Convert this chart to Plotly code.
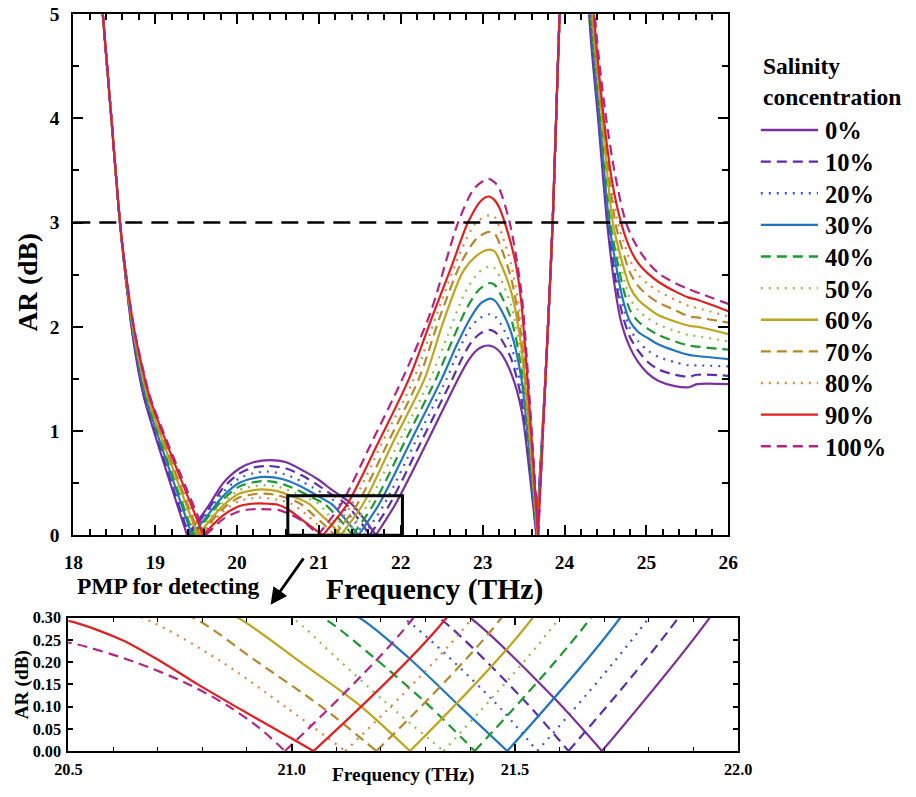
import plotly.graph_objects as go

# ---- AR spectra (dB) versus frequency (THz) for each salinity level ----
freq_00 = [18.36, 18.465, 18.57, 18.635, 18.71, 18.79, 18.87, 19.39,
           19.65, 19.83, 20.03, 20.2, 20.40, 20.6, 20.83, 21.0, 21.15, 21.28, 21.40, 21.59, 21.695,
           21.936, 22.30, 22.70, 22.82, 22.92, 23.0, 23.08, 23.15, 23.22, 23.36, 23.48, 23.57, 23.655,
           23.77, 23.855, 23.94, 24.15, 24.30, 24.41, 24.52, 24.62, 24.70, 24.80, 24.90, 25.02, 25.15, 25.35, 25.52, 25.62, 26.0]
ar_00 = [5.0, 4.0, 3.0, 2.5, 2.0, 1.6, 1.3, 0.0,
         0.28, 0.50, 0.64, 0.70, 0.72, 0.70, 0.61, 0.53, 0.44, 0.37, 0.30, 0.117, 0.0,
         0.30, 0.86, 1.5, 1.67, 1.77, 1.81, 1.82, 1.80, 1.75, 1.53, 1.18, 0.62, 0.0,
         1.55, 3.0, 5.0, 9.0, 5.0, 4.0, 3.0, 2.35, 2.02, 1.80, 1.66, 1.55, 1.48, 1.43, 1.42, 1.45, 1.45]

freq_10 = [18.36, 18.465, 18.57, 18.636, 18.713, 18.796, 18.878, 19.41,
           19.65, 19.83, 20.03, 20.2, 20.38, 20.6, 20.80, 20.95, 21.10, 21.22, 21.33, 21.52, 21.62,
           21.866, 22.25, 22.63, 22.75, 22.86, 22.96, 23.08, 23.15, 23.22, 23.35, 23.47, 23.57, 23.658,
           23.77, 23.855, 23.94, 24.15, 24.31, 24.42, 24.53, 24.63, 24.71, 24.80, 24.90, 25.02, 25.15, 25.35, 25.52, 25.62, 26.0]
ar_10 = [5.0, 4.0, 3.0, 2.5, 2.0, 1.6, 1.3, 0.0,
         0.25, 0.454, 0.594, 0.65, 0.665, 0.64, 0.57, 0.50, 0.42, 0.36, 0.30, 0.115, 0.0,
         0.30, 0.90, 1.5, 1.70, 1.85, 1.93, 1.97, 1.95, 1.89, 1.69, 1.32, 0.68, 0.0,
         1.55, 3.0, 5.0, 9.0, 5.0, 4.0, 3.0, 2.42, 2.11, 1.90, 1.77, 1.66, 1.59, 1.54, 1.52, 1.54, 1.53]

freq_20 = [18.36, 18.465, 18.57, 18.637, 18.716, 18.802, 18.886, 19.43,
           19.65, 19.83, 20.03, 20.2, 20.37, 20.58, 20.78, 20.92, 21.05, 21.15, 21.25, 21.45, 21.55,
           21.80, 22.18, 22.56, 22.70, 22.84, 22.96, 23.08, 23.15, 23.22, 23.35, 23.47, 23.57, 23.66,
           23.77, 23.855, 23.94, 24.15, 24.31, 24.42, 24.535, 24.64, 24.72, 24.80, 24.90, 25.02, 25.15, 25.35, 25.52, 25.62, 26.0]
ar_20 = [5.0, 4.0, 3.0, 2.5, 2.0, 1.6, 1.3, 0.0,
         0.23, 0.412, 0.547, 0.595, 0.61, 0.585, 0.52, 0.46, 0.40, 0.35, 0.30, 0.115, 0.0,
         0.30, 0.90, 1.5, 1.76, 1.98, 2.08, 2.12, 2.10, 2.03, 1.81, 1.42, 0.74, 0.0,
         1.55, 3.0, 5.0, 9.0, 5.0, 4.0, 3.0, 2.48, 2.19, 1.98, 1.86, 1.77, 1.71, 1.66, 1.63, 1.63, 1.62]

freq_30 = [18.36, 18.465, 18.57, 18.638, 18.719, 18.808, 18.894, 19.45,
           19.65, 19.83, 20.03, 20.2, 20.35, 20.55, 20.75, 20.88, 21.0, 21.152, 21.262, 21.377, 21.483,
           21.736, 22.12, 22.50, 22.68, 22.84, 22.97, 23.09, 23.15, 23.22, 23.35, 23.47, 23.57, 23.662,
           23.77, 23.855, 23.94, 24.15, 24.32, 24.43, 24.545, 24.65, 24.72, 24.80, 24.90, 25.02, 25.15, 25.35, 25.52, 25.62, 26.0]
ar_30 = [5.0, 4.0, 3.0, 2.5, 2.0, 1.6, 1.3, 0.0,
         0.20, 0.375, 0.503, 0.547, 0.56, 0.54, 0.48, 0.425, 0.37, 0.30, 0.21, 0.10, 0.0,
         0.30, 0.90, 1.5, 1.82, 2.07, 2.22, 2.27, 2.25, 2.17, 1.94, 1.52, 0.80, 0.0,
         1.55, 3.0, 5.0, 9.0, 5.0, 4.0, 3.0, 2.5, 2.24, 2.05, 1.95, 1.89, 1.83, 1.77, 1.73, 1.72, 1.69]

freq_40 = [18.36, 18.465, 18.57, 18.639, 18.722, 18.814, 18.902, 19.47,
           19.65, 19.83, 20.03, 20.2, 20.34, 20.52, 20.72, 20.85, 20.95, 21.07, 21.185, 21.31, 21.41,
           21.67, 22.05, 22.43, 22.63, 22.80, 22.96, 23.09, 23.15, 23.22, 23.35, 23.47, 23.57, 23.665,
           23.77, 23.855, 23.94, 24.15, 24.32, 24.44, 24.56, 24.66, 24.73, 24.80, 24.90, 25.02, 25.15, 25.35, 25.52, 25.62, 26.0]
ar_40 = [5.0, 4.0, 3.0, 2.5, 2.0, 1.6, 1.3, 0.0,
         0.18, 0.344, 0.469, 0.508, 0.52, 0.50, 0.44, 0.39, 0.35, 0.30, 0.21, 0.10, 0.0,
         0.30, 0.90, 1.5, 1.87, 2.17, 2.36, 2.42, 2.40, 2.31, 2.07, 1.62, 0.86, 0.0,
         1.55, 3.0, 5.0, 9.0, 5.0, 4.0, 3.0, 2.57, 2.33, 2.16, 2.05, 1.98, 1.92, 1.86, 1.82, 1.81, 1.78]

freq_50 = [18.36, 18.465, 18.57, 18.64, 18.725, 18.82, 18.91, 19.50,
           19.65, 19.83, 20.03, 20.2, 20.32, 20.5, 20.70, 20.88, 21.0, 21.10, 21.21, 21.34,
           21.60, 21.98, 22.36, 22.58, 22.78, 22.95, 23.09, 23.15, 23.22, 23.35, 23.47, 23.57, 23.667,
           23.77, 23.855, 23.94, 24.15, 24.33, 24.45, 24.575, 24.67, 24.74, 24.80, 24.90, 25.02, 25.15, 25.35, 25.52, 25.62, 26.0]
ar_50 = [5.0, 4.0, 3.0, 2.5, 2.0, 1.6, 1.3, 0.0,
         0.15, 0.314, 0.434, 0.47, 0.48, 0.465, 0.41, 0.35, 0.30, 0.21, 0.11, 0.0,
         0.30, 0.90, 1.5, 1.93, 2.32, 2.52, 2.58, 2.56, 2.46, 2.20, 1.72, 0.93, 0.0,
         1.55, 3.0, 5.0, 9.0, 5.0, 4.0, 3.0, 2.64, 2.42, 2.27, 2.16, 2.08, 2.02, 1.96, 1.92, 1.91, 1.86]

freq_60 = [18.36, 18.465, 18.57, 18.641, 18.728, 18.826, 18.918, 19.52,
           19.65, 19.83, 20.03, 20.2, 20.31, 20.48, 20.65, 20.77, 20.88, 21.02, 21.15, 21.265,
           21.54, 21.91, 22.29, 22.52, 22.76, 22.94, 23.08, 23.15, 23.22, 23.35, 23.47, 23.57, 23.67,
           23.77, 23.855, 23.94, 24.15, 24.34, 24.46, 24.59, 24.68, 24.74, 24.80, 24.90, 25.02, 25.15, 25.35, 25.52, 25.62, 26.0]
ar_60 = [5.0, 4.0, 3.0, 2.5, 2.0, 1.6, 1.3, 0.0,
         0.125, 0.285, 0.40, 0.432, 0.44, 0.425, 0.38, 0.345, 0.30, 0.20, 0.105, 0.0,
         0.30, 0.90, 1.5, 2.05, 2.53, 2.69, 2.74, 2.72, 2.61, 2.33, 1.82, 1.00, 0.0,
         1.55, 3.0, 5.0, 9.0, 5.0, 4.0, 3.0, 2.69, 2.52, 2.38, 2.26, 2.18, 2.11, 2.05, 2.01, 2.00, 1.93]

freq_70 = [18.36, 18.465, 18.57, 18.642, 18.731, 18.832, 18.926, 19.54,
           19.65, 19.83, 20.03, 20.2, 20.29, 20.45, 20.6, 20.78, 20.92, 21.068, 21.19,
           21.47, 21.85, 22.22, 22.48, 22.74, 22.93, 23.08, 23.15, 23.22, 23.35, 23.47, 23.57, 23.672,
           23.77, 23.855, 23.94, 24.15, 24.34, 24.47, 24.62, 24.70, 24.80, 24.90, 25.02, 25.15, 25.35, 25.52, 25.62, 26.0]
ar_70 = [5.0, 4.0, 3.0, 2.5, 2.0, 1.6, 1.3, 0.0,
         0.10, 0.256, 0.364, 0.393, 0.40, 0.39, 0.36, 0.30, 0.203, 0.099, 0.0,
         0.30, 0.90, 1.5, 2.1, 2.62, 2.85, 2.91, 2.89, 2.77, 2.46, 1.93, 1.07, 0.0,
         1.55, 3.0, 5.0, 9.0, 5.0, 4.0, 3.0, 2.76, 2.52, 2.39, 2.30, 2.23, 2.16, 2.10, 2.09, 2.04]

freq_80 = [18.36, 18.465, 18.57, 18.643, 18.734, 18.838, 18.934, 19.56,
           19.65, 19.83, 20.03, 20.2, 20.28, 20.5, 20.666, 20.84, 20.987, 21.12,
           21.405, 21.78, 22.16, 22.44, 22.73, 22.92, 23.08, 23.15, 23.22, 23.35, 23.47, 23.57, 23.674,
           23.77, 23.855, 23.94, 24.15, 24.35, 24.48, 24.65, 24.72, 24.80, 24.90, 25.02, 25.15, 25.35, 25.52, 25.62, 26.0]
ar_80 = [5.0, 4.0, 3.0, 2.5, 2.0, 1.6, 1.3, 0.0,
         0.083, 0.228, 0.329, 0.355, 0.36, 0.34, 0.30, 0.203, 0.099, 0.0,
         0.30, 0.90, 1.5, 2.12, 2.72, 3.0, 3.07, 3.05, 2.92, 2.59, 2.04, 1.13, 0.0,
         1.55, 3.0, 5.0, 9.0, 5.0, 4.0, 3.0, 2.82, 2.64, 2.50, 2.41, 2.34, 2.26, 2.20, 2.18, 2.10]

freq_90 = [18.36, 18.465, 18.57, 18.644, 18.737, 18.844, 18.942, 19.59,
           19.65, 19.83, 20.03, 20.15, 20.26, 20.38, 20.5, 20.62, 20.71, 20.79, 20.875, 20.962, 21.049,
           21.347, 21.7, 22.10, 22.40, 22.62, 22.82, 22.98, 23.08, 23.14, 23.2, 23.27, 23.40, 23.47, 23.57, 23.677,
           23.77, 23.855, 23.94, 24.15, 24.36, 24.48, 24.58, 24.69, 24.80, 24.90, 25.02, 25.15, 25.35, 25.52, 25.62, 26.0]
ar_90 = [5.0, 4.0, 3.0, 2.5, 2.0, 1.6, 1.3, 0.0,
         0.054, 0.19, 0.28, 0.30, 0.305, 0.302, 0.293, 0.25, 0.20, 0.15, 0.10, 0.05, 0.0,
         0.30, 0.85, 1.5, 2.13, 2.58, 3.0, 3.21, 3.25, 3.22, 3.15, 3.0, 2.62, 2.25, 1.25, 0.0,
         1.55, 3.0, 5.0, 9.0, 5.0, 4.0, 3.4, 3.0, 2.75, 2.61, 2.51, 2.43, 2.34, 2.28, 2.26, 2.15]

freq_100 = [18.36, 18.465, 18.57, 18.645, 18.74, 18.85, 18.95, 19.62,
            19.65, 19.83, 20.03, 20.15, 20.25, 20.38, 20.5, 20.65, 20.77, 20.86, 20.93, 20.985,
            21.273, 21.65, 22.02, 22.36, 22.70, 22.90, 23.07, 23.14, 23.2, 23.33, 23.47, 23.57, 23.68,
            23.77, 23.855, 23.94, 24.15, 24.37, 24.50, 24.62, 24.75, 24.85, 24.95, 25.05, 25.17, 25.35, 25.52, 25.69, 26.0]
ar_100 = [5.0, 4.0, 3.0, 2.5, 2.0, 1.6, 1.3, 0.0,
          0.026, 0.155, 0.23, 0.247, 0.25, 0.249, 0.244, 0.20, 0.15, 0.10, 0.05, 0.0,
          0.30, 0.90, 1.5, 2.13, 3.0, 3.33, 3.42, 3.39, 3.33, 3.0, 2.35, 1.35, 0.0,
          1.55, 3.0, 5.0, 9.0, 5.0, 4.05, 3.45, 3.0, 2.82, 2.69, 2.59, 2.50, 2.42, 2.36, 2.31, 2.22]

salinity_labels = ["0%", "10%", "20%", "30%", "40%", "50%", "60%", "70%", "80%", "90%", "100%"]
freq_series = [freq_00, freq_10, freq_20, freq_30, freq_40, freq_50, freq_60, freq_70, freq_80, freq_90, freq_100]
ar_series = [ar_00, ar_10, ar_20, ar_30, ar_40, ar_50, ar_60, ar_70, ar_80, ar_90, ar_100]

line_colors = ["#7B2FA0", "#5B2DB0", "#3F51E0", "#1F77C4", "#1A9A2A", "#8CC04A",
               "#BFA51C", "#B8862B", "#E5823A", "#E41E1E", "#B52483"]
DASH = "10px,6px"
DOT = "2px,6px"
line_dashes = ["solid", DASH, DOT, "solid", DASH, DOT, "solid", DASH, DOT, "solid", DASH]

W, H = 916, 797
FONT = "Liberation Serif"
# page offset of the plot div and the resulting view scale
PAGE_OFF = 8
SX, SY = W / (W + 2 * PAGE_OFF), H / (H + 2 * PAGE_OFF)


def px(x):
    return (x / SX - PAGE_OFF) / W


def py(y):
    return 1 - (y / SY - PAGE_OFF) / H


def fs(size):
    return round(size / SY, 1)


def split_at_zeros(f, a):
    """Cut a spectrum into smooth pieces that meet at its AR = 0 points,
    so the minima stay sharp while each piece is drawn as a spline."""
    cuts = [0] + [i for i, v in enumerate(a) if v == 0 and 0 < i < len(a) - 1] + [len(a) - 1]
    for s, e in zip(cuts[:-1], cuts[1:]):
        yield f[s:e + 1], a[s:e + 1]


fig = go.Figure()

for f, a, lab, col, dsh in zip(freq_series, ar_series, salinity_labels, line_colors, line_dashes):
    for xa, ya in (("x", "y"), ("x2", "y2")):
        for fseg, aseg in split_at_zeros(f, a):
            fig.add_trace(go.Scatter(
                x=fseg, y=aseg, mode="lines", name=lab, showlegend=False,
                xaxis=xa, yaxis=ya,
                line=dict(color=col, width=2.2, dash=dsh, shape="spline", smoothing=0.8),
            ))

axis_common = dict(
    showline=True, linecolor="black", linewidth=2, mirror="allticks",
    ticks="inside", tickcolor="black", showgrid=False, zeroline=False,
)

fig.update_layout(
    width=W, height=H, autosize=False,
    margin=dict(l=0, r=0, t=0, b=0),
    paper_bgcolor="white", plot_bgcolor="white",
    showlegend=False,
    xaxis=dict(domain=[px(68), px(732)], range=[18, 26], anchor="y",
               tick0=18, dtick=1, ticklen=10, tickwidth=2,
               minor=dict(dtick=0.2, ticklen=6, tickwidth=1.5, ticks="inside", tickcolor="black"),
               tickfont=dict(family=FONT, size=fs(19), color="black", weight="bold"),
               ticklabelstandoff=8, **axis_common),
    yaxis=dict(domain=[py(537), py(13)], range=[0, 5], anchor="x",
               tick0=0, dtick=1, ticklen=10, tickwidth=2,
               minor=dict(dtick=0.5, ticklen=6, tickwidth=1.5, ticks="inside", tickcolor="black"),
               tickfont=dict(family=FONT, size=fs(19), color="black", weight="bold"),
               ticklabelstandoff=8, **axis_common),
    xaxis2=dict(domain=[px(63), px(742)], range=[20.5, 22.0], anchor="y2",
                tick0=20.5, dtick=0.5, tickformat=".1f", ticklen=7, tickwidth=1.5,
                minor=dict(dtick=0.1, ticklen=4, tickwidth=1.2, ticks="inside", tickcolor="black"),
                tickfont=dict(family=FONT, size=fs(16), color="black", weight="bold"),
                ticklabelstandoff=2, **axis_common),
    yaxis2=dict(domain=[py(754), py(620)], range=[0, 0.30], anchor="x2",
                tick0=0, dtick=0.05, tickformat=".2f", ticklen=5, tickwidth=1.5,
                tickfont=dict(family=FONT, size=fs(16), color="black", weight="bold"),
                ticklabelstandoff=2, **axis_common),
)

# 3 dB reference line and the zoomed window marker
fig.add_shape(type="line", xref="x", yref="y", x0=18, x1=26, y0=3, y1=3,
              line=dict(color="black", width=2.5, dash="17px,9px"))
fig.add_shape(type="rect", xref="x", yref="y", x0=20.62, x1=22.02, y0=0, y1=0.38,
              line=dict(color="black", width=3))


def bold_text(text, x, y, size, xanchor="center", yanchor="middle", angle=0):
    fig.add_annotation(text=text, x=x, y=y, xref="paper", yref="paper",
                       xanchor=xanchor, yanchor=yanchor, showarrow=False, textangle=angle,
                       font=dict(family=FONT, size=fs(size), color="black", weight="bold"))


# axis titles
bold_text("AR (dB)", px(22), py(282), 27, angle=-90)
bold_text("Frequency (THz)", px(434), py(592), 29)
bold_text("PMP for detecting", px(70), py(588), 23, xanchor="left")
bold_text("Frequency (THz)", px(402), py(778), 19)
bold_text("AR (dB)", px(16), py(687), 19, angle=-90)

# arrow pointing down to the zoomed panel
fig.add_annotation(x=px(268), y=py(607), xref="paper", yref="paper",
                   ax=34, ay=-48, text="", showarrow=True,
                   arrowhead=2, arrowsize=1.2, arrowwidth=2.8, arrowcolor="black")

# legend block
bold_text("Salinity", px(765), py(65), 23, xanchor="left")
bold_text("concentration", px(765), py(96), 23, xanchor="left")
for i, (lab, col, dsh) in enumerate(zip(salinity_labels, line_colors, line_dashes)):
    yy = 129.5 + 31.8 * i
    fig.add_shape(type="line", xref="paper", yref="paper",
                  x0=px(765), x1=px(823), y0=py(yy), y1=py(yy),
                  line=dict(color=col, width=2.4, dash=dsh))
    bold_text(lab, px(828), py(yy + 1), 24, xanchor="left")

fig.write_html("out.html")
